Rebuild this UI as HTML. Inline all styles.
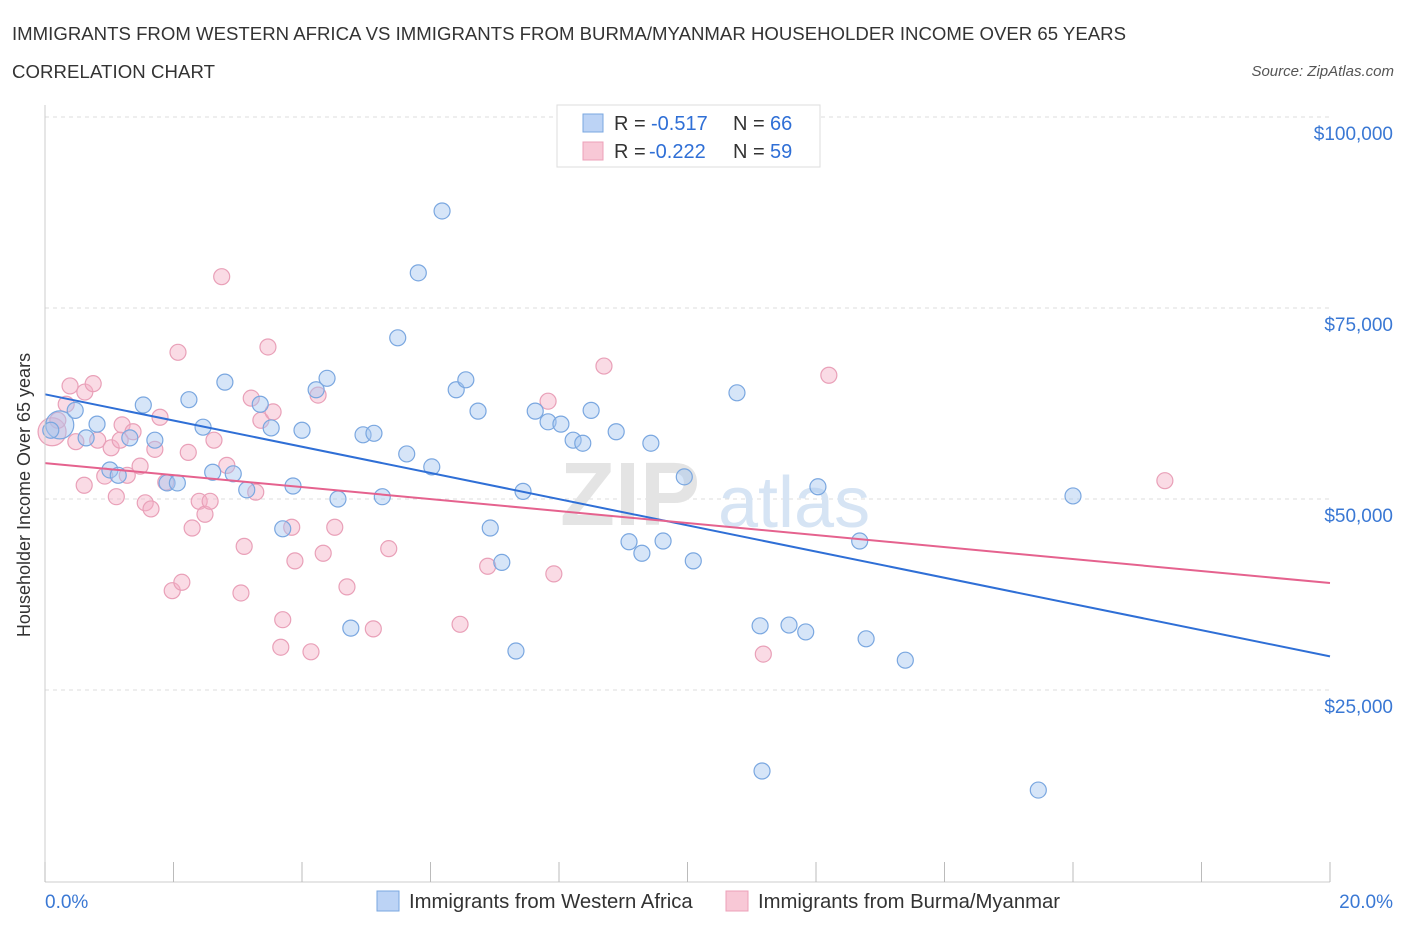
<!DOCTYPE html>
<html><head><meta charset="utf-8"><style>
body{margin:0;background:#fff;font-family:"Liberation Sans",sans-serif;}
svg text{font-family:"Liberation Sans",sans-serif;}
</style></head><body>
<svg id="chart" width="1406" height="930">
<text x="12" y="40" font-size="18.6" fill="#333" textLength="1114">IMMIGRANTS FROM WESTERN AFRICA VS IMMIGRANTS FROM BURMA/MYANMAR HOUSEHOLDER INCOME OVER 65 YEARS</text>
<text x="12" y="78" font-size="18.6" fill="#333" textLength="203">CORRELATION CHART</text>
<text x="1394" y="76" font-size="15" fill="#555" font-style="italic" text-anchor="end">Source: ZipAtlas.com</text>
<text x="30" y="495" font-size="18" fill="#333" text-anchor="middle" transform="rotate(-90 30 495)">Householder Income Over 65 years</text>
<g id="grid"></g>
<text x="560" y="525" font-size="90" fill="#e4e4e4" font-family="Liberation Serif" font-weight="bold">ZIP</text>
<text x="718" y="527" font-size="72" fill="#d6e4f4">atlas</text>
<g id="marks"></g>
<g id="ticks"></g>
<g>
<rect x="557" y="105" width="263" height="62" fill="#fff" stroke="#ddd"/>
<rect x="583" y="114" width="20" height="18" fill="#bcd3f5" stroke="#7aa7e0"/>
<text x="614" y="130" font-size="20" fill="#333">R =</text>
<text x="651" y="130" font-size="20" fill="#2f6fd6">-0.517</text>
<text x="733" y="130" font-size="20" fill="#333">N =</text>
<text x="770" y="130" font-size="20" fill="#2f6fd6">66</text>
<rect x="583" y="142" width="20" height="18" fill="#f8c8d6" stroke="#eda0b8"/>
<text x="614" y="158" font-size="20" fill="#333">R =</text>
<text x="649" y="158" font-size="20" fill="#2f6fd6">-0.222</text>
<text x="733" y="158" font-size="20" fill="#333">N =</text>
<text x="770" y="158" font-size="20" fill="#2f6fd6">59</text>
</g>
<rect x="377" y="891" width="22" height="20" fill="#bcd3f5" stroke="#7aa7e0"/>
<text x="409" y="908" font-size="20.3" fill="#333">Immigrants from Western Africa</text>
<rect x="726" y="891" width="22" height="20" fill="#f8c8d6" stroke="#eda0b8"/>
<text x="758" y="908" font-size="20.3" fill="#333">Immigrants from Burma/Myanmar</text>
</svg>
<script>
const yTicks=[25000,50000,75000,100000];
const yTickLabels=["$25,000","$50,000","$75,000","$100,000"];
const blueX=[0.23,0.47,0.81,0.64,1.32,1.01,1.14,1.53,1.71,1.90,2.06,2.24,2.46,2.61,2.80,2.93,3.14,3.35,3.52,3.86,3.70,4.00,4.22,4.39,4.56,4.76,4.95,5.12,5.25,5.49,5.63,5.81,6.02,6.18,6.40,6.55,6.74,6.93,7.11,7.33,7.44,7.63,7.83,8.03,8.22,8.37,8.50,8.89,9.09,9.29,9.43,9.62,9.95,10.09,10.77,11.13,11.16,11.58,11.84,12.03,12.68,12.78,13.39,15.46,16.0,0.09];
const blueY=[59.7,61.6,59.8,58.0,58.0,53.8,53.1,62.3,57.7,52.1,52.1,63.0,59.4,53.5,65.3,53.3,51.2,62.4,59.3,51.7,46.1,59.0,64.3,65.8,50.0,33.1,58.4,58.6,50.3,71.1,55.9,79.6,54.2,87.7,64.3,65.6,61.5,46.2,41.7,30.1,51.0,61.5,60.1,59.8,57.7,57.3,61.6,58.8,44.4,42.9,57.3,44.5,52.9,41.9,63.9,33.4,14.4,33.5,32.6,51.6,44.5,31.7,28.9,11.9,50.4,59.0];
const pinkX=[0.11,0.20,0.39,0.62,0.75,0.33,0.48,0.61,0.82,0.93,1.03,1.11,1.20,1.28,1.37,1.48,1.56,1.65,1.71,1.79,1.88,1.98,2.07,2.13,2.23,2.29,2.40,2.49,2.57,2.63,2.75,2.83,3.05,3.10,3.21,3.28,3.36,3.47,3.55,3.67,3.70,3.84,3.89,4.14,4.25,4.33,4.51,4.70,5.11,5.35,6.46,6.89,7.83,7.92,8.70,11.18,12.20,17.43,1.17];
const pinkY=[58.8,60.3,64.8,64.0,65.1,62.4,57.5,51.8,57.7,53.0,56.7,50.3,59.7,53.1,58.8,54.3,49.5,48.7,56.5,60.7,52.2,38.0,69.2,39.1,56.1,46.2,49.7,48.0,49.7,57.7,79.1,54.4,37.7,43.8,63.2,50.9,60.3,69.9,61.4,30.6,34.2,46.3,41.9,30.0,63.6,42.9,46.3,38.5,33.0,43.5,33.6,41.2,62.8,40.2,67.4,29.7,66.2,52.4,57.7];
const blueTrend=[63.7,29.4];
const pinkTrend=[54.7,39.0];
const X=p=>45+p*64.25;
const Y=v=>881-v*7.64;
const NS="http://www.w3.org/2000/svg";
function mk(tag,attrs,parent){const e=document.createElementNS(NS,tag);for(const k in attrs)e.setAttribute(k,attrs[k]);document.getElementById(parent).appendChild(e);return e;}
yTicks.forEach((t,i)=>{
 const l=mk('line',{x1:45,x2:1330,y1:Y(t/1000),y2:Y(t/1000),stroke:'#ddd','stroke-dasharray':'4,4'},'grid');
 
 
 const tx=mk('text',{x:1393,y:Y(t/1000)+23,'font-size':19,fill:'#3a78d4','text-anchor':'end'},'grid');
 tx.textContent=yTickLabels[i];
 
 
});
let a=mk('line',{x1:45,x2:45,y1:105,y2:882,stroke:'#ccc'},'ticks');


a=mk('line',{x1:45,x2:1330,y1:882,y2:882,stroke:'#ccc'},'ticks');


for(let i=0;i<=10;i++){const t=mk('line',{x1:X(i*2),x2:X(i*2),y1:862,y2:882,stroke:'#bbb'},'ticks');
 
 }
let xl=mk('text',{x:45,y:908,'font-size':19,fill:'#3a78d4'},'ticks');xl.textContent='0.0%';


xl=mk('text',{x:1393,y:908,'font-size':19,fill:'#3a78d4','text-anchor':'end'},'ticks');xl.textContent='20.0%';


function pts(xs,ys,fill,stroke,name){xs.forEach((x,i)=>{const c=mk('circle',{cx:X(x),cy:Y(ys[i]),r:i===0?14:8,fill:fill,stroke:stroke,'stroke-width':1.2},'marks');
 
 });}
pts(pinkX,pinkY,'rgba(245,175,198,0.45)','#e9a0b8','point-burma');
pts(blueX,blueY,'rgba(165,198,240,0.45)','#7aa7e0','point-western-africa');
let tl=mk('line',{x1:X(0),x2:X(20),y1:Y(blueTrend[0]),y2:Y(blueTrend[1]),stroke:'#2f6fd6','stroke-width':2},'marks');


tl=mk('line',{x1:X(0),x2:X(20),y1:Y(pinkTrend[0]),y2:Y(pinkTrend[1]),stroke:'#e5628e','stroke-width':2},'marks');


</script>
</body></html>
